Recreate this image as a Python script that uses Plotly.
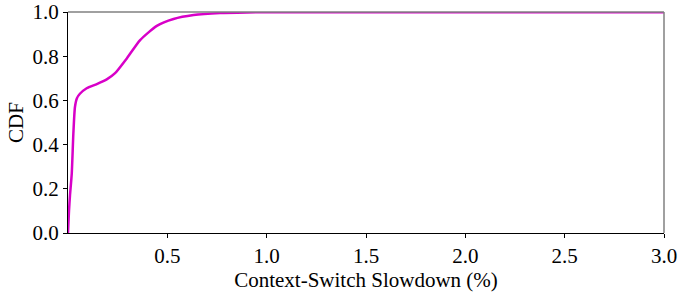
import plotly.graph_objects as go

slowdown_pct = [0.0, 0.005, 0.01, 0.019, 0.027, 0.035, 0.045, 0.06, 0.094, 0.145, 0.195, 0.237,
                0.296, 0.363, 0.447, 0.531, 0.632, 0.766, 0.9, 1.0, 1.5, 2.0, 2.5, 3.0]
cdf = [0.0, 0.10, 0.17, 0.27, 0.45, 0.57, 0.61, 0.63, 0.655, 0.674, 0.695, 0.723,
       0.79, 0.873, 0.937, 0.968, 0.986, 0.995, 0.998, 0.999, 0.999, 0.999, 0.999, 0.999]

x_ticks = [0.5, 1.0, 1.5, 2.0, 2.5, 3.0]
y_ticks = [0.0, 0.2, 0.4, 0.6, 0.8, 1.0]

fig = go.Figure()
fig.add_trace(go.Scatter(
    x=slowdown_pct, y=cdf, mode="lines",
    line=dict(color="#d800c8", width=2.5, shape="spline", smoothing=0.6),
    showlegend=False,
))

serif = "Liberation Serif, Times New Roman, serif"
tfont = dict(family=serif, size=21, color="black")

fig.update_layout(
    width=678, height=293,
    margin=dict(l=68, r=14, t=12, b=60, autoexpand=False),
    paper_bgcolor="white", plot_bgcolor="white",
    font=tfont,
    xaxis=dict(
        range=[0.0, 3.0], tickmode="array", tickvals=x_ticks,
        ticktext=[f"{v:.1f}" for v in x_ticks],
        tickfont=tfont, ticklabeloverflow="allow",
        showline=True, linecolor="black", linewidth=1.2,
        ticks="outside", ticklen=4, tickcolor="black", showgrid=False, zeroline=False,
        title=dict(text="Context-Switch Slowdown (%)", standoff=0, font=tfont),
    ),
    yaxis=dict(
        range=[0.0, 1.0], tickmode="array", tickvals=y_ticks,
        ticktext=[f"{v:.1f}" for v in y_ticks],
        tickfont=tfont, ticklabeloverflow="allow",
        showline=True, linecolor="black", linewidth=1.2,
        ticks="outside", ticklen=4, tickcolor="black", showgrid=False, zeroline=False,
        title=dict(text="CDF", standoff=3, font=tfont),
    ),
    shapes=[
        dict(type="line", xref="paper", yref="paper", x0=0, x1=1, y0=1, y1=1,
             line=dict(color="#808080", width=1.5)),
        dict(type="line", xref="paper", yref="paper", x0=1, x1=1, y0=0, y1=1,
             line=dict(color="#808080", width=1.5)),
    ],
)

fig.write_html("out.html", config={"displayModeBar": False},
               post_script="document.body.style.margin='0';")
